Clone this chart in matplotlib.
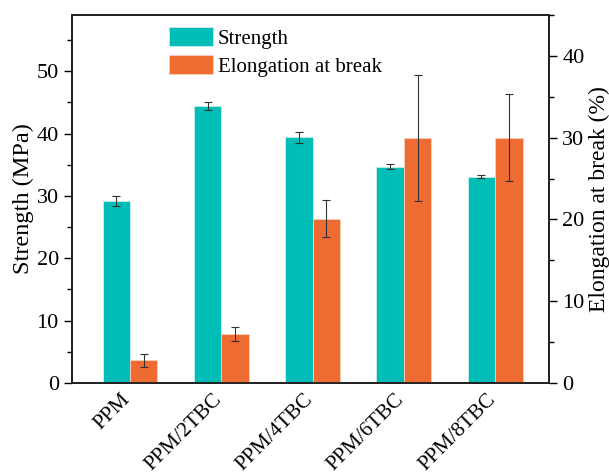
import numpy as np
import matplotlib.pyplot as plt
import matplotlib.transforms as mtransforms
from matplotlib.ticker import MultipleLocator

plt.rcParams['font.family'] = ['Liberation Serif', 'DejaVu Serif']

samples = ['PPM', 'PPM/2TBC', 'PPM/4TBC', 'PPM/6TBC', 'PPM/8TBC']
strength = [29.2, 44.4, 39.4, 34.7, 33.1]
strength_err = [0.8, 0.7, 0.9, 0.4, 0.3]
elongation = [2.8, 6.0, 20.1, 30.0, 30.0]
elongation_err = [0.8, 0.9, 2.3, 7.7, 5.3]

teal = '#00bdb8'
orange = '#ee6b32'
w = 0.3
x = np.arange(len(samples))

fig = plt.figure(figsize=(6.09, 4.76), dpi=100)
ax = fig.add_axes([72 / 609, 1 - 383 / 476, 477 / 609, 368 / 476])
ax2 = ax.twinx()

ax.bar(x - w / 2, strength, w, color=teal, edgecolor='#c8f0ee', linewidth=0.6,
       yerr=strength_err, capsize=3,
       error_kw=dict(ecolor='#333333', elinewidth=0.8, capthick=0.8),
       label='Strength')
ax2.bar(x + w / 2, elongation, w, color=orange, edgecolor='#f8d0bf', linewidth=0.6,
        yerr=elongation_err, capsize=3,
        error_kw=dict(ecolor='#333333', elinewidth=0.8, capthick=0.8),
        label='Elongation at break')

ax.set_xlim(-0.636, 4.59)
ax.set_ylim(0, 59)
ax2.set_ylim(0, 45)

ax.yaxis.set_major_locator(MultipleLocator(10))
ax.yaxis.set_minor_locator(MultipleLocator(5))
ax2.yaxis.set_major_locator(MultipleLocator(10))
ax2.yaxis.set_minor_locator(MultipleLocator(5))

ax.tick_params(axis='x', length=0, pad=5)
ax.tick_params(axis='y', which='major', length=6, width=1, labelsize=16, direction='out')
ax.tick_params(axis='y', which='minor', length=3.5, width=1, direction='out')
ax2.tick_params(axis='y', which='major', length=6, width=1, labelsize=16, direction='out')
ax2.tick_params(axis='y', which='minor', length=3.5, width=1, direction='out')

ax.set_xticks(x)
ax.set_xticklabels(samples, rotation=45, ha='right', rotation_mode='anchor', fontsize=15.3)
# nudge the rotated labels left so their ends sit under the bar pairs
shift = mtransforms.ScaledTranslation(-0.09, 0.0, fig.dpi_scale_trans)
for lbl in ax.get_xticklabels():
    lbl.set_transform(lbl.get_transform() + shift)

for a in (ax, ax2):
    for s in a.spines.values():
        s.set_linewidth(1.3)
        s.set_color('#222222')

ax.set_ylabel('Strength (MPa)', fontsize=17.5, labelpad=2)
ax2.set_ylabel('Elongation at break (%)', fontsize=17, labelpad=3)

h1, l1 = ax.get_legend_handles_labels()
h2, l2 = ax2.get_legend_handles_labels()
leg = ax2.legend(h1 + h2, l1 + l2, loc='upper left', bbox_to_anchor=(0.203, 0.967),
                 frameon=False, fontsize=15, handlelength=2.1, handleheight=1.0,
                 handletextpad=0.25, labelspacing=0.33, borderpad=0, borderaxespad=0)

fig.savefig('out.png', dpi=100)
